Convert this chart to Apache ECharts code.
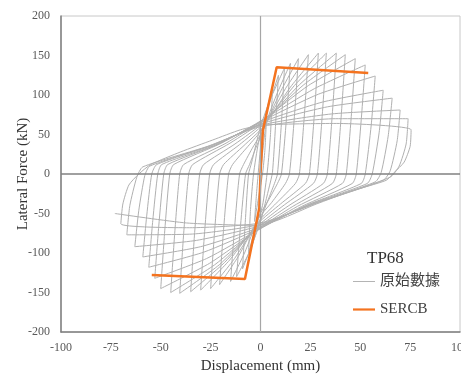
<!DOCTYPE html>
<html>
<head>
<meta charset="utf-8">
<title>TP68</title>
<script src="https://cdn.jsdelivr.net/npm/echarts@6/dist/echarts.min.js"></script>
<style>
  html, body { margin: 0; padding: 0; background: #fff; }
  #chart { width: 461px; height: 377px; }
</style>
</head>
<body>
<div id="chart"></div>
<script>
// axis ticks
const xTicks = [-100, -75, -50, -25, 0, 25, 50, 75, 100]
const yTicks = [-200, -150, -100, -50, 0, 50, 100, 150, 200]

// raw test data, one array per load cycle: [displacement (mm), force (kN)]
const c01 = [[0, 0], [1.5, 38], [3, 70], [2.2, 30], [1, 0], [-1, -30], [-3, -60]]
const c02 = [[-2, -25], [-1, 5], [0.5, 45], [3, 80], [6, 108], [5, 50], [3.5, 5], [1, -40], [-3, -72], [-6, -100]]
const c03 = [[-5, -45], [-3.5, 0], [-1, 40], [3, 78], [9, 125], [7.5, 60], [6, 2], [4.5, -15], [0, -60], [-4, -88], [-9, -120]]
const c04 = [[-7.5, -55], [-6, 0], [-4.5, 14], [0, 60], [5, 95], [12, 134], [10.5, 65], [8.5, 0], [7, -12], [3, -38], [-1, -64], [-5, -96], [-12, -130]]
const c05 = [[-10, -65], [-7.5, 0], [-5.5, 12], [-2.5, 32], [0.5, 50], [8, 100], [15, 140], [13, 70], [10.5, 0], [8.5, -12], [3.8, -34], [-0.5, -52], [-8, -100], [-15, -136]]
const c06 = [[-13, -68], [-10.5, 0], [-8.5, 12], [-3.8, 34], [1, 54], [10, 104], [19, 146], [17, 73], [14.5, 0], [12.5, -12], [5.6, -36], [-1, -56], [-10.8, -103], [-20.5, -140]]
const c07 = [[-18.5, -70], [-16, 0], [-14, 12], [-6.3, 35], [1, 57], [12.5, 108], [24, 151], [22, 75], [19.5, 0], [17.5, -12], [7.9, -37], [-1, -60], [-13, -107], [-25, -145]]
const c08 = [[-23, -72], [-20.5, 0], [-18.5, 12], [-8.3, 36], [1.5, 60], [15, 110], [29, 153], [27, 76], [24.5, 0], [22.5, -12], [10, -38], [-1.5, -63], [-15.5, -109], [-30, -147]]
const c09 = [[-28, -73], [-25.5, 0], [-23.5, 12], [-10.6, 37], [1.5, 63], [17, 112], [33, 153], [31, 76], [28.5, 0], [26.5, -12], [12, -39], [-1.5, -66], [-18, -112], [-35, -149]]
const c10 = [[-33, -74], [-30.5, 0], [-28.5, 12], [-12.8, 38], [2, 66], [19.5, 113], [38, 153], [36, 76], [33.5, 0], [31.5, -12], [14.2, -40], [-2, -69], [-20.7, -115], [-40.5, -151]]
const c11 = [[-38.5, -75], [-36, 0], [-34, 12], [-15.3, 39], [2, 68], [21.7, 113], [42.5, 151], [40.5, 75], [38, 0], [36, -12], [16.2, -41], [-2, -71], [-23, -115], [-45, -150]]
const c12 = [[-43, -75], [-40.5, 0], [-38.5, 12], [-17.3, 39], [2, 70], [24, 112], [47.5, 146], [45.5, 73], [43, 0], [41, -12], [18.5, -41], [-2, -72], [-25.5, -113], [-50, -145]]
const c13 = [[-48, -72], [-45.5, 0], [-43.5, 12], [-19.6, 39], [2, 70], [27, 108], [52.5, 138], [50.5, 69], [48, 0], [46, -12], [20.7, -41], [-2, -72], [-27, -107], [-53, -132]]
const c14 = [[-51, -66], [-48.5, 0], [-46.5, 12], [-21, 38], [1.5, 68], [29, 101], [57.5, 124], [55.5, 62], [52.5, 0], [50.5, -12], [22.7, -40], [-1.5, -70], [-28.5, -99], [-56, -118]]
const c15 = [[-54, -59], [-51.5, 0], [-49.5, 12], [-22.3, 37], [1, 66], [31, 91], [61.5, 106], [59.5, 53], [56, 0], [53.5, -12], [24, -39], [-1, -68], [-30, -92], [-59, -105]]
const c16 = [[-57, -52], [-54.5, 0], [-52, 12], [-23.4, 37], [1, 64], [33.5, 85], [66, 96], [64, 48], [60.5, 2], [57.5, -10], [26, -38], [-1, -66], [-32, -84], [-63, -92]]
const c17 = [[-61, -46], [-58, -2], [-55.5, 10], [-25, 36], [0.5, 62], [35.5, 76], [70, 81], [68.5, 42], [65, 4], [61.5, -8], [27.7, -37], [-0.5, -64], [-34, -76], [-67, -77]]
const c18 = [[-65.5, -40], [-62, -4], [-59, 9], [-26.5, 35], [0, 60], [37.5, 70], [74, 70], [73, 38], [69.5, 10], [65, -4], [29, -36], [0, -62], [-35.5, -68], [-70, -63]]
const c19 = [[-69, -38], [-66, -14], [-61, 0], [-55, 12], [-40, 28], [-24, 43], [-10, 56], [1, 62], [38, 64], [75.5, 56], [75, 35], [72, 15], [67, 2], [63, -8], [45, -22], [28, -38], [-1, -65], [-37, -62], [-73, -50]]

// SERCB backbone
const sercb = [[-54.5, -128], [-7.8, -133], [-0.6, -43], [0, 0], [1.2, 55], [8.1, 135], [54, 128]]

const rawData = [].concat(c01, c02, c03, c04, c05, c06, c07, c08, c09, c10,
  c11, c12, c13, c14, c15, c16, c17, c18, c19)

const serif = "'Liberation Serif', 'Times New Roman', 'Noto Sans CJK TC', serif"
const grayColor = '#b0b0b0'
const orangeColor = '#f4731f'

const chart = echarts.init(document.getElementById('chart'))
chart.setOption({
  animation: false,
  backgroundColor: '#fff',
  title: {
    text: 'TP68',
    left: 362,
    top: 245,
    textStyle: {
      fontFamily: serif,
      fontSize: 17,
      fontWeight: 'normal',
      color: '#333'
    }
  },
  legend: {
    data: [
      { name: '原始數據', icon: 'path://M0,0 L26,0 L26,1 L0,1 Z', itemStyle: { color: '#a6a6a6' } },
      { name: 'SERCB', icon: 'path://M0,0 L26,0 L26,2.6 L0,2.6 Z', itemStyle: { color: orangeColor } }
    ],
    orient: 'vertical',
    left: 348,
    top: 269,
    itemWidth: 22,
    itemHeight: 10,
    itemGap: 13,
    selectedMode: false,
    textStyle: {
      fontFamily: serif,
      fontSize: 15,
      color: '#404040'
    }
  },
  grid: {
    left: 61,
    right: 1,
    top: 16,
    bottom: 45,
    containLabel: false,
    outerBoundsMode: 'none',
    show: true,
    borderColor: '#c8c8c8',
    borderWidth: 1
  },
  xAxis: {
    type: 'value',
    min: xTicks[0],
    max: xTicks[xTicks.length - 1],
    interval: 25,
    name: 'Displacement (mm)',
    nameLocation: 'middle',
    nameGap: 27,
    nameTextStyle: { fontFamily: serif, fontSize: 15, color: '#333' },
    axisLine: { onZero: false, lineStyle: { color: '#7f7f7f', width: 1.5 } },
    axisTick: { show: false },
    axisLabel: { margin: 10, fontFamily: serif, fontSize: 12, color: '#595959' },
    splitLine: { show: false }
  },
  yAxis: {
    type: 'value',
    min: yTicks[0],
    max: yTicks[yTicks.length - 1],
    interval: 50,
    name: 'Lateral Force (kN)',
    nameLocation: 'middle',
    nameGap: 30,
    nameMoveOverlap: false,
    nameTextStyle: { fontFamily: serif, fontSize: 15, color: '#333' },
    axisLine: { onZero: false, lineStyle: { color: '#7f7f7f', width: 1.5 } },
    axisTick: { show: false },
    axisLabel: { margin: 11, fontFamily: serif, fontSize: 12, color: '#595959' },
    splitLine: { show: false }
  },
  series: [
    {
      name: '原始數據',
      type: 'line',
      data: rawData,
      symbol: 'none',
      smooth: 0.2,
      z: 1,
      lineStyle: { color: grayColor, width: 1 },
      itemStyle: { color: grayColor }
    },
    {
      name: 'zero',
      type: 'line',
      data: [],
      z: 2,
      markLine: {
        silent: true,
        symbol: 'none',
        label: { show: false },
        data: [
          { yAxis: 0, lineStyle: { color: '#808080', width: 1.5, type: 'solid' } },
          { xAxis: 0, lineStyle: { color: '#a6a6a6', width: 1.2, type: 'solid' } }
        ]
      }
    },
    {
      name: 'SERCB',
      type: 'line',
      data: sercb,
      symbol: 'none',
      z: 3,
      lineStyle: { color: orangeColor, width: 2.5 },
      itemStyle: { color: orangeColor }
    }
  ]
})
</script>
</body>
</html>
